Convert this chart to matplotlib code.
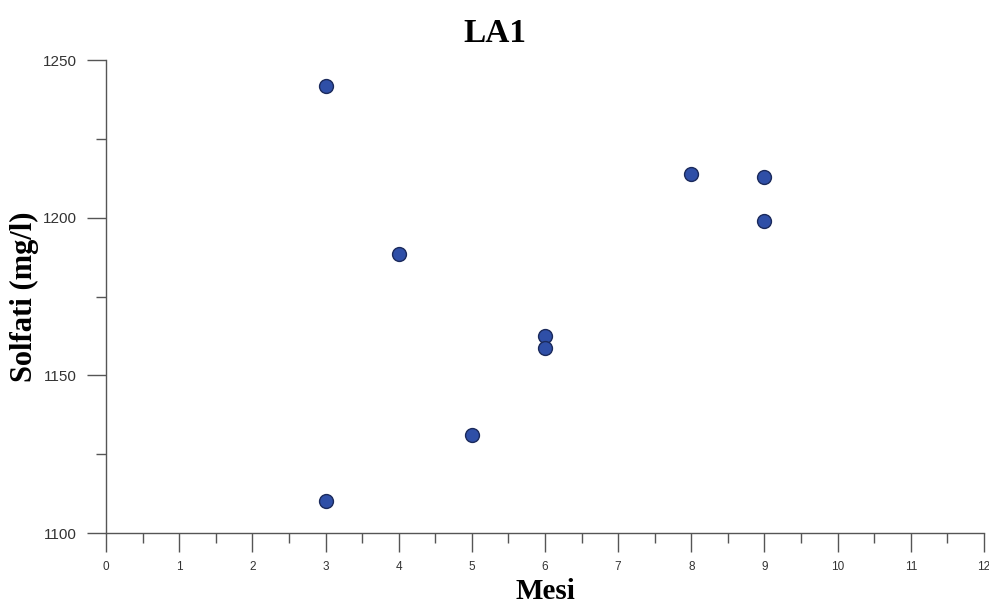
import matplotlib
matplotlib.use("Agg")
import matplotlib.pyplot as plt
from matplotlib.ticker import MultipleLocator

# monthly sulphate readings, well LA1
mesi = [3, 3, 4, 5, 6, 6, 8, 9, 9]
solfati = [1241.8, 1110.0, 1188.5, 1131.0, 1162.5, 1158.7, 1214.0, 1213.0, 1199.0]

fig = plt.figure(figsize=(9.89, 6.05), dpi=100)
ax = fig.add_axes([0.1072, 0.119, 0.8877, 0.7818])

ax.scatter(mesi, solfati, s=100, color="#2f4fa7", edgecolor="#1b2a5c",
           linewidth=1.0, zorder=3, clip_on=False)

ax.set_xlim(0, 12)
ax.set_ylim(1100, 1250)
ax.xaxis.set_major_locator(MultipleLocator(1))
ax.xaxis.set_minor_locator(MultipleLocator(0.5))
ax.yaxis.set_major_locator(MultipleLocator(50))
ax.yaxis.set_minor_locator(MultipleLocator(25))

for side in ["top", "right"]:
    ax.spines[side].set_visible(False)
for side in ["left", "bottom"]:
    ax.spines[side].set_color("#555555")
    ax.spines[side].set_linewidth(1.0)

ax.tick_params(which="major", direction="out", length=14, width=1.0,
               color="#555555", labelcolor="#333333", pad=6)
ax.tick_params(axis="x", which="major", labelsize=8.5)
ax.tick_params(axis="y", which="major", labelsize=11, pad=7)
ax.tick_params(which="minor", direction="out", length=7, width=1.0,
               color="#555555")
for lab in ax.get_xticklabels() + ax.get_yticklabels():
    lab.set_family("Liberation Sans")

fig.suptitle("LA1", fontsize=24, fontweight="bold", family="Liberation Serif",
             x=0.5, y=0.97, va="top")
ax.set_xlabel("Mesi", fontsize=21, fontweight="bold", family="Liberation Serif", labelpad=4)
ax.set_ylabel("Solfati (mg/l)", fontsize=22, fontweight="bold", family="Liberation Serif")
ax.yaxis.set_label_coords(-0.076, 0.5)

fig.savefig("out.png", dpi=100)
